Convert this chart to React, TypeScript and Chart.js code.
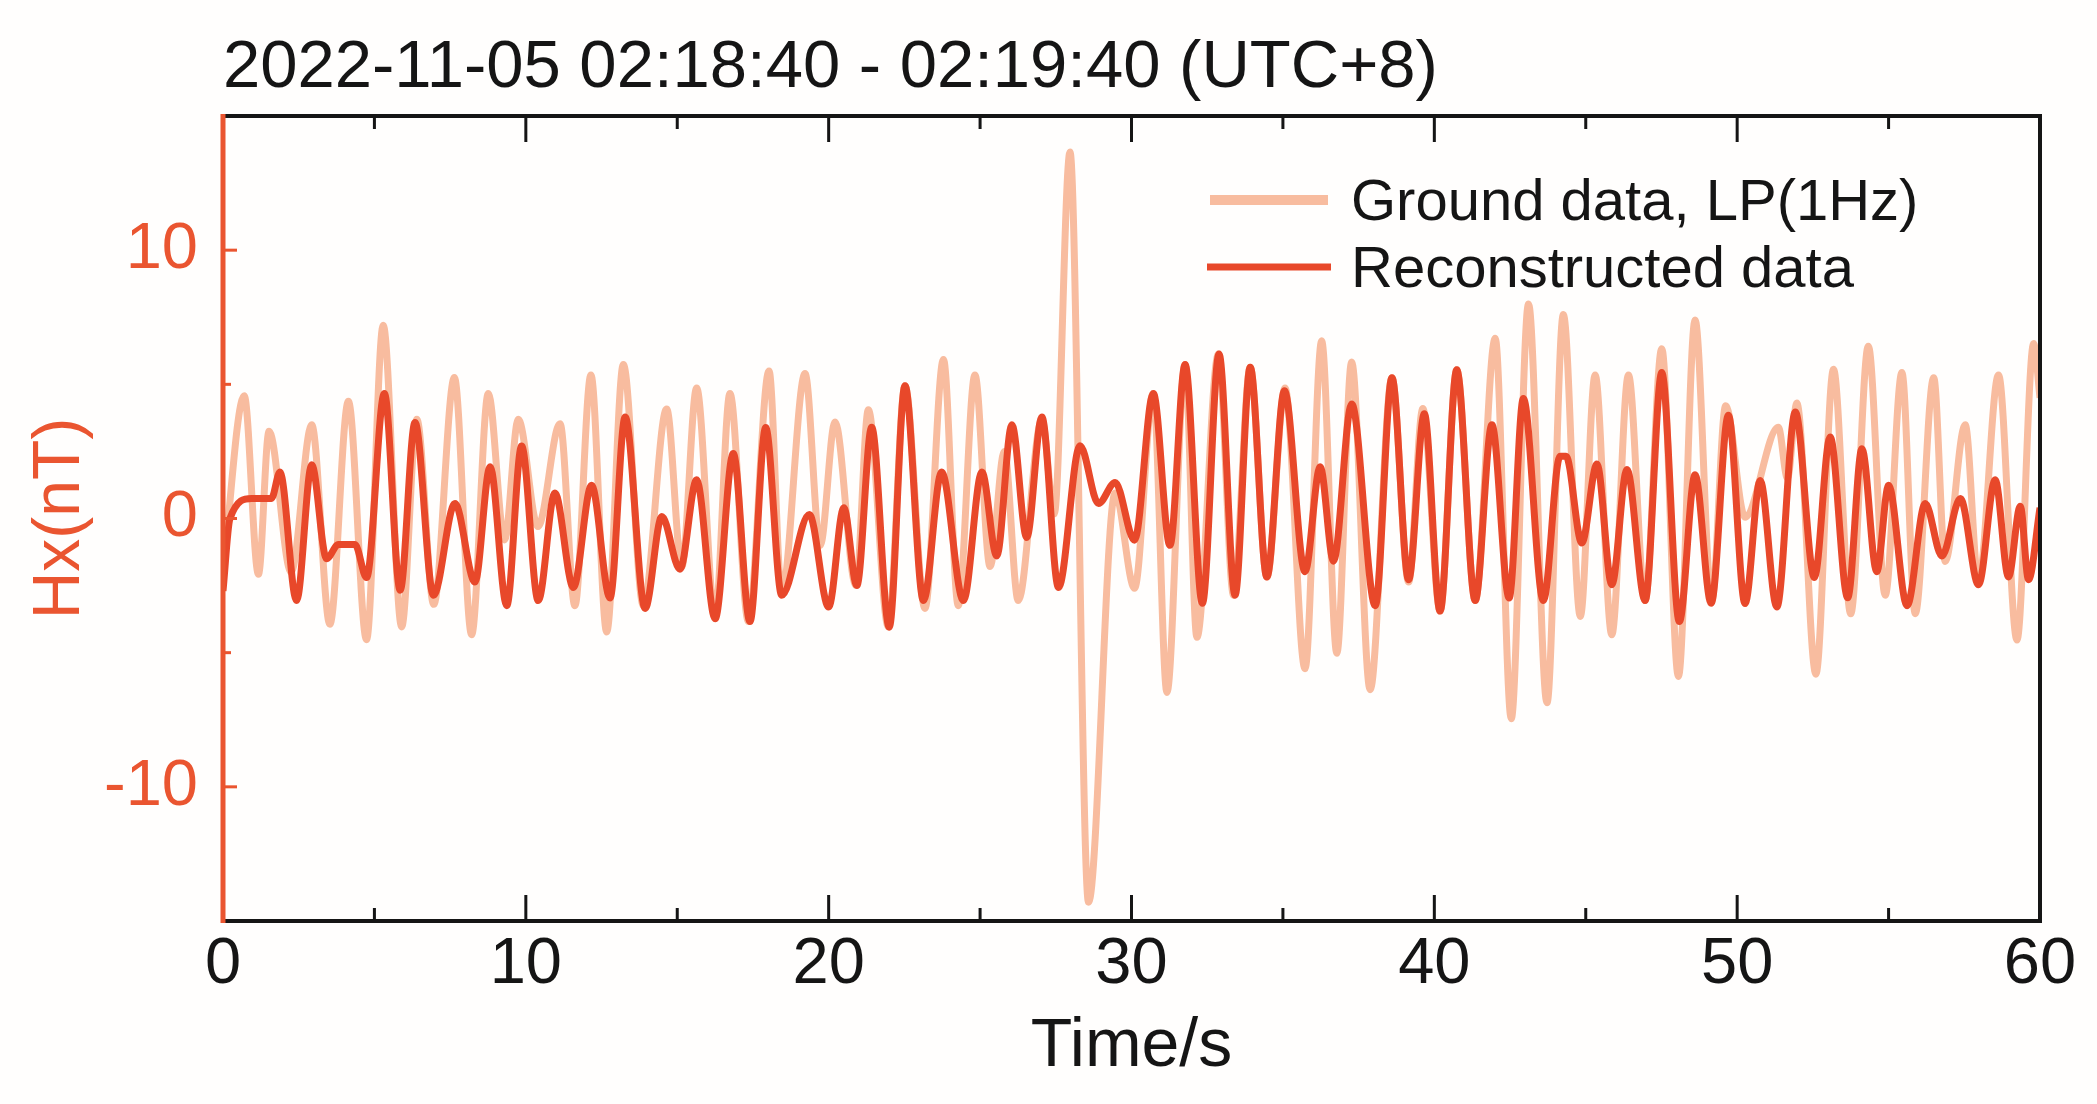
import React, { useEffect, useRef } from "react";
import { Chart, registerables } from "chart.js";

Chart.register(...registerables);

// Ground data, LP(1Hz): time (s) and Hx (nT) at turning points
const groundTime = [
  0, 0.7, 1.17, 1.52, 2.25, 2.93, 3.53, 4.14, 4.74, 5.29, 5.9, 6.4, 6.96, 7.64, 8.21, 8.76, 9.3, 9.75,
  10.4, 11.13, 11.62, 12.15, 12.67, 13.22, 13.88, 14.65, 15.15, 15.64, 16.25, 16.74, 17.35, 18.03, 18.45, 19.22, 19.72,
  20.21, 20.9, 21.31, 21.97, 22.52, 23.18, 23.79, 24.28, 24.83, 25.33, 25.8, 26.26, 27.04, 27.45, 27.97, 28.58, 29.46,
  30.1, 30.72, 31.17, 31.77, 32.16, 32.87, 33.37, 33.92, 34.47, 35.07, 35.73, 36.28, 36.78, 37.27, 37.88, 38.6, 39.15, 39.62,
  40.19, 40.74, 41.35, 42.01, 42.54, 43.11, 43.72, 44.26, 44.82, 45.31, 45.86, 46.41, 46.96, 47.51, 48.06, 48.61, 49.16, 49.62,
  50.26, 51.36, 51.66, 51.97, 52.6, 53.18, 53.75, 54.33, 54.89, 55.44, 55.88, 56.49, 56.87, 57.53, 57.97, 58.63, 59.24, 59.79, 60,
];
const groundValue = [
  -2.0, 4.57, -2.08, 3.25, -2.0, 3.49, -3.94, 4.37, -4.52, 7.2, -4.04, 3.7, -3.2, 5.25, -4.33, 4.66, -0.8, 3.7,
  -0.3, 3.53, -3.25, 5.35, -4.23, 5.74, -3.25, 4.08, -1.8, 4.86, -3.65, 4.66, -3.84, 5.5, -2.8, 5.4, -1.0,
  3.6, -2.5, 4.05, -4.04, 4.95, -3.35, 5.93, -3.25, 5.35, -1.79, 2.5, -3.06, 3.68, 0.17, 13.66, -14.3, 0.95,
  -2.6, 4.66, -6.48, 5.74, -4.43, 6.13, -2.86, 5.64, -2.18, 4.86, -5.6, 6.62, -5.02, 5.83, -6.38, 5.25, -2.37, 4.1,
  -3.45, 5.54, -3.06, 6.72, -7.46, 7.99, -6.87, 7.6, -3.65, 5.35, -4.33, 5.35, -3.06, 6.33, -5.89, 7.4, -3.06, 4.2,
  0.05, 3.4, 1.5, 4.3, -5.8, 5.56, -3.55, 6.42, -2.86, 5.44, -3.55, 5.25, -1.6, 3.49, -2.37, 5.35, -4.53, 6.52, 4.5,
];

// Reconstructed data: time (s) and Hx (nT) at turning points
const reconTime = [
  0, 0.23, 0.95, 1.6, 1.88, 2.43, 2.93, 3.42, 3.81, 4.36, 4.74, 5.33, 5.85, 6.34, 6.95, 7.66, 8.32, 8.82, 9.37, 9.86,
  10.41, 10.96, 11.57, 12.17, 12.78, 13.28, 13.94, 14.49, 15.09, 15.64, 16.25, 16.85, 17.4, 17.92, 18.45, 19.36,
  20.0, 20.5, 20.93, 21.42, 22.0, 22.52, 23.13, 23.73, 24.45, 25.06, 25.55, 26.05, 26.54, 27.04, 27.59, 28.3, 28.91, 29.46,
  30.1, 30.72, 31.27, 31.77, 32.34, 32.89, 33.42, 33.92, 34.47, 35.05, 35.73, 36.23, 36.67, 37.27, 38.05, 38.6, 39.15, 39.67,
  40.19, 40.74, 41.35, 41.9, 42.47, 42.94, 43.6, 44.15, 44.35, 44.87, 45.37, 45.86, 46.36, 46.96, 47.51, 48.09, 48.61, 49.14, 49.71,
  50.26, 50.76, 51.31, 51.92, 52.55, 53.07, 53.65, 54.12, 54.61, 55.0, 55.61, 56.21, 56.76, 57.37, 57.97, 58.52, 58.96, 59.35, 59.62, 60,
];
const reconValue = [
  -2.7, 0, 0.75, 0.75, 1.73, -3.06, 2.0, -1.5, -0.97, -0.97, -2.2, 4.66, -2.67, 3.58, -2.86, 0.56, -2.37, 1.93, -3.25, 2.7,
  -3.06, 0.95, -2.57, 1.24, -2.96, 3.78, -3.35, 0.07, -1.89, 1.44, -3.74, 2.42, -3.84, 3.39, -2.86, 0.15,
  -3.3, 0.4, -2.5, 3.4, -4.05, 4.95, -3.06, 1.73, -3.06, 1.73, -1.4, 3.49, -0.71, 3.78, -2.57, 2.71, 0.56, 1.34,
  -0.81, 4.66, -1.0, 5.74, -3.16, 6.13, -2.86, 5.64, -2.18, 4.76, -1.98, 1.93, -1.59, 4.27, -3.25, 5.25, -2.28, 3.9,
  -3.45, 5.54, -3.06, 3.49, -2.96, 4.47, -3.06, 2.32, 2.32, -0.91, 2.03, -2.47, 1.83, -3.06, 5.44, -3.84, 1.63, -3.16, 3.85,
  -3.17, 1.42, -3.3, 3.97, -2.2, 3.04, -2.95, 2.6, -1.98, 1.24, -3.25, 0.56, -1.4, 0.75, -2.47, 1.44, -2.18, 0.46, -2.28, 0.4,
];

const xMajorTicks = [0, 10, 20, 30, 40, 50, 60];
const xMinorTicks = [5, 15, 25, 35, 45, 55];
const yMajorTicks = [-10, 0, 10];
const yMinorTicks = [-5, 5];

const TITLE = "2022-11-05 02:18:40 - 02:19:40 (UTC+8)";
const GROUND_LABEL = "Ground data, LP(1Hz)";
const RECON_LABEL = "Reconstructed data";

const FONT = "'Liberation Sans', Arial, sans-serif";
const LIGHT = "#F8BC9F";
const DARK = "#E8482A";
const AXIS_ORANGE = "#EA5530";
const BLACK = "#151515";

const decorPlugin = {
  id: "decor",
  beforeDraw(chart: any) {
    const ctx = chart.ctx;
    ctx.save();
    ctx.fillStyle = "#fffefd";
    ctx.fillRect(0, 0, chart.width, chart.height);
    ctx.restore();
  },
  afterDraw(chart: any) {
    const ctx = chart.ctx;
    const { left, right, top, bottom } = chart.chartArea;
    const xs = chart.scales.x;
    const ys = chart.scales.y;
    ctx.save();
    // ticks on x (bottom and top, inward)
    ctx.strokeStyle = BLACK;
    ctx.lineWidth = 3;
    const xt = (vals: number[], len: number) => {
      vals.forEach((v) => {
        const px = xs.getPixelForValue(v);
        ctx.beginPath();
        ctx.moveTo(px, bottom);
        ctx.lineTo(px, bottom - len);
        ctx.moveTo(px, top);
        ctx.lineTo(px, top + len);
        ctx.stroke();
      });
    };
    xt(xMajorTicks, 26);
    xt(xMinorTicks, 13);
    // ticks on y (left, inward)
    ctx.strokeStyle = AXIS_ORANGE;
    const yt = (vals: number[], len: number) => {
      vals.forEach((v) => {
        const py = ys.getPixelForValue(v);
        ctx.beginPath();
        ctx.moveTo(left, py);
        ctx.lineTo(left + len, py);
        ctx.stroke();
      });
    };
    yt(yMajorTicks, 14);
    yt(yMinorTicks, 8);
    // frame
    ctx.strokeStyle = BLACK;
    ctx.lineWidth = 4;
    ctx.beginPath();
    ctx.moveTo(left, top);
    ctx.lineTo(right, top);
    ctx.lineTo(right, bottom);
    ctx.lineTo(left, bottom);
    ctx.stroke();
    ctx.strokeStyle = AXIS_ORANGE;
    ctx.lineWidth = 5;
    ctx.beginPath();
    ctx.moveTo(left, top - 2);
    ctx.lineTo(left, bottom + 2);
    ctx.stroke();
    // title
    ctx.fillStyle = BLACK;
    ctx.font = `67px ${FONT}`;
    ctx.textAlign = "left";
    ctx.textBaseline = "middle";
    ctx.fillText(TITLE, left, 69);
    // legend
    const ds = chart.data.datasets;
    ctx.lineCap = "butt";
    ctx.strokeStyle = ds[1].borderColor;
    ctx.lineWidth = 10;
    ctx.beginPath();
    ctx.moveTo(1210, 200);
    ctx.lineTo(1328, 200);
    ctx.stroke();
    ctx.strokeStyle = ds[0].borderColor;
    ctx.lineWidth = 7;
    ctx.beginPath();
    ctx.moveTo(1207, 267);
    ctx.lineTo(1331, 267);
    ctx.stroke();
    ctx.font = `58px ${FONT}`;
    ctx.fillStyle = BLACK;
    ctx.fillText(ds[1].label, 1351, 204);
    ctx.fillText(ds[0].label, 1351, 271);
    ctx.restore();
  },
};

export default function App() {
  const ref = useRef<HTMLCanvasElement | null>(null);
  useEffect(() => {
    document.body.style.margin = "0";
    const canvas = ref.current;
    if (!canvas) return;
    const ground = groundTime.map((t, i) => ({ x: t, y: groundValue[i] }));
    const recon = reconTime.map((t, i) => ({ x: t, y: reconValue[i] }));
    const chart = new Chart(canvas, {
      type: "line",
      data: {
        datasets: [
          {
            label: RECON_LABEL,
            data: recon,
            borderColor: DARK,
            borderWidth: 7,
            pointRadius: 0,
            cubicInterpolationMode: "monotone",
            order: 0,
          },
          {
            label: GROUND_LABEL,
            data: ground,
            borderColor: LIGHT,
            borderWidth: 7,
            pointRadius: 0,
            cubicInterpolationMode: "monotone",
            order: 1,
          },
        ],
      },
      options: {
        animation: false,
        responsive: false,
        devicePixelRatio: 1,
        layout: { padding: { top: 116, right: 57, bottom: 0, left: 0 } },
        plugins: { legend: { display: false }, tooltip: { enabled: false }, title: { display: false } },
        scales: {
          x: {
            type: "linear",
            min: 0,
            max: 60,
            grid: { display: false, drawTicks: false },
            border: { display: false },
            ticks: { stepSize: 10, maxRotation: 0, padding: 5, color: BLACK, font: { size: 65, family: FONT } },
            title: { display: true, text: "Time/s", color: BLACK, font: { size: 68, family: FONT }, padding: { top: 0, bottom: 16 } },
            afterBuildTicks: (s: any) => {
              s.ticks = xMajorTicks.map((v) => ({ value: v }));
            },
            afterFit: (s: any) => {
              s.height = 183;
            },
          },
          y: {
            type: "linear",
            min: -15,
            max: 15,
            grid: { display: false, drawTicks: false },
            border: { display: false },
            ticks: { padding: 25, color: AXIS_ORANGE, font: { size: 65, family: FONT } },
            title: { display: true, text: "Hx(nT)", color: AXIS_ORANGE, font: { size: 66, family: FONT }, padding: { top: 21, bottom: 0 } },
            afterBuildTicks: (s: any) => {
              s.ticks = yMajorTicks.map((v) => ({ value: v }));
            },
            afterFit: (s: any) => {
              s.width = 223;
            },
          },
        },
      },
      plugins: [decorPlugin],
    } as any);
    return () => chart.destroy();
  }, []);
  return <canvas ref={ref} width={2097} height={1104} style={{ display: "block" }} />;
}
